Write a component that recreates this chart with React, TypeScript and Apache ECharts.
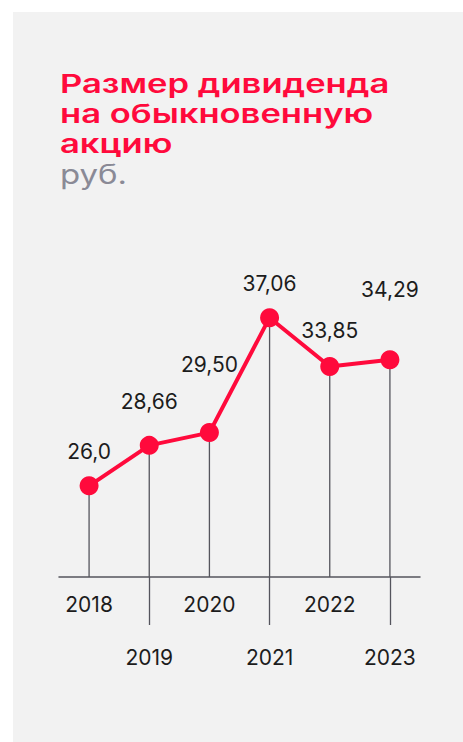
import React, { useEffect, useRef } from "react";
import * as echarts from "echarts";

const years = ["2018", "2019", "2020", "2021", "2022", "2023"];
const dividends = [26.0, 28.66, 29.5, 37.06, 33.85, 34.29];
const valueLabels = ["26,0", "28,66", "29,50", "37,06", "33,85", "34,29"];
const titleLines = ["Размер дивиденда", "на обыкновенную", "акцию"];
const unitText = "руб.";

// extra lift of each value label above its point (layout)
const labelLift = [0, 10, 34, 0, 2, 36];

const RED = "#ff0a3c";
const DARK = "#1c1c1c";
const LINE_GRAY = "#55555d";

export default function App() {
  const ref = useRef<HTMLDivElement>(null);
  useEffect(() => {
    const chart = echarts.init(ref.current!, null, { renderer: "svg" });
    const titleY = [83, 113, 143];
    const option = {
      animation: false,
      backgroundColor: "#ffffff",
      graphic: [
        {
          type: "rect",
          shape: { x: 13, y: 12, width: 450, height: 730 },
          style: { fill: "#f2f2f2" },
          z: -10,
        },
        ...titleLines.map((t, i) => ({
          type: "text",
          x: 60,
          y: titleY[i],
          scaleX: 1.33,
          style: {
            text: t,
            fill: RED,
            font: "600 26px Inter",
            verticalAlign: "middle",
            align: "left",
          },
        })),
        {
          type: "text",
          x: 60,
          y: 174,
          scaleX: 1.22,
          style: {
            text: unitText,
            fill: "#8a8a96",
            font: "normal 27px Inter",
            verticalAlign: "middle",
            align: "left",
          },
        },
      ],
      grid: { left: 59, right: 43, top: 273, bottom: 165, containLabel: false },
      xAxis: {
        type: "category",
        data: years,
        boundaryGap: true,
        axisLine: { show: true, lineStyle: { color: LINE_GRAY, width: 1.5 } },
        axisTick: {
          show: true,
          alignWithLabel: true,
          interval: (i: number) => i % 2 === 1,
          length: 48,
          lineStyle: { color: LINE_GRAY, width: 1.3 },
        },
        axisLabel: {
          interval: 0,
          margin: 15,
          color: DARK,
          fontFamily: "Inter",
          fontSize: 21,
          formatter: (v: string, i: number) => (i % 2 === 0 ? `{a|${v}}` : `{b|${v}}`),
          rich: {
            a: { fontFamily: "Inter", fontSize: 21, lineHeight: 24, color: DARK },
            b: { fontFamily: "Inter", fontSize: 21, lineHeight: 24, color: DARK, padding: [106, 0, 0, 0] },
          },
        },
        splitLine: { show: false },
      },
      yAxis: { type: "value", min: 20, max: 40, show: false },
      series: [
        {
          type: "bar",
          data: dividends,
          barWidth: 1.3,
          itemStyle: { color: LINE_GRAY },
          z: 1,
          silent: true,
        },
        {
          type: "line",
          data: dividends.map((v, i) => ({
            value: v,
            label: {
              show: true,
              position: "top",
              distance: 14 + labelLift[i],
              formatter: valueLabels[i],
            },
          })),
          z: 5,
          lineStyle: { color: RED, width: 4 },
          itemStyle: { color: RED },
          symbol: "circle",
          symbolSize: 19,
          label: {
            show: true,
            color: DARK,
            fontFamily: "Inter",
            fontSize: 21,
          },
        },
      ],
    };
    chart.setOption(option as any);
    return () => chart.dispose();
  }, []);
  return (
    <div
      ref={ref}
      style={{ position: "absolute", left: 0, top: 0, width: 463, height: 742 }}
    />
  );
}
